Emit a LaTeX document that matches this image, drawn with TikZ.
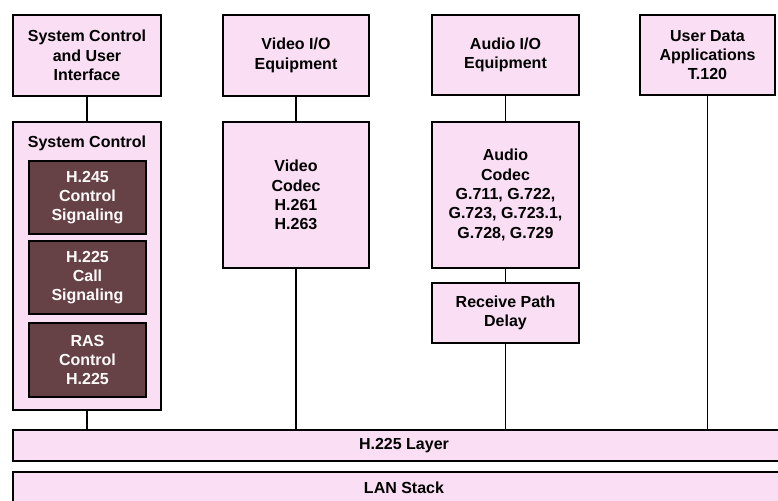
\documentclass[tikz,border=0pt]{standalone}
\usepackage{fontspec}
\setmainfont{Liberation Sans}
\usepackage{xcolor}
\usepackage{tikz}
\usetikzlibrary{positioning}

\definecolor{boxpink}{RGB}{249,222,244}
\definecolor{sigbrown}{RGB}{102,66,70}
\newcommand{\px}{0.75pt}

\begin{document}
\begin{tikzpicture}[x=0.75pt, y=-0.75pt,
		unit/.style={draw, line width=1.4pt, fill=boxpink, align=center,
				font=\bfseries\fontsize{12}{14.5}\selectfont, inner sep=0pt},
		sigbox/.style={unit, fill=sigbrown, text=white!92!pink},
		link/.style={line width=1.4pt}]
		\useasboundingbox (0,0) rectangle (778,500);
		\clip (0,0) rectangle (778,500);

		% Top row: equipment and applications
		\node[unit, minimum width=148*\px, minimum height=81*\px] (scui) at (87,55.5)
			{System Control\\and User\\Interface};
		\node[unit, minimum width=146*\px, minimum height=81*\px] (vio) at (296,55.5)
			{Video I/O\\Equipment};
		\node[unit, minimum width=147*\px, minimum height=80*\px] (aio) at (505.5,55)
			{Audio I/O\\Equipment};
		\node[unit, minimum width=135*\px, minimum height=80*\px] (udata) at (707.5,55)
			{User Data\\Applications\\T.120};

		% System control block with its signalling parts
		\node[unit, minimum width=148*\px, minimum height=288*\px] (sysctl) at (87,266) {};
		\node[font=\bfseries\fontsize{12}{14.5}\selectfont] (sctitle) at (87,143) {System Control};
		\node[sigbox, minimum width=117*\px, minimum height=73*\px] (h245) at (87.5,197.5)
			{H.245\\Control\\Signaling};
		\node[sigbox, minimum width=117*\px, minimum height=73*\px] (h225c) at (87.5,277.5)
			{H.225\\Call\\Signaling};
		\node[sigbox, minimum width=117*\px, minimum height=74*\px] (ras) at (87.5,360)
			{RAS\\Control\\H.225};

		% Codecs
		\node[unit, minimum width=146*\px, minimum height=146*\px] (vcodec) at (296,195)
			{Video\\Codec\\H.261\\H.263};
		\node[unit, minimum width=147*\px, minimum height=146*\px] (acodec) at (505.5,195)
			{Audio\\Codec\\G.711, G.722,\\G.723, G.723.1,\\G.728, G.729};
		\node[unit, minimum width=147*\px, minimum height=60*\px] (rpd) at (505.5,313)
			{Receive Path\\Delay};

		% Layers at the bottom
		\node[unit, minimum width=782*\px, minimum height=31*\px] (h225) at (404,445.5) {H.225 Layer};
		\node[unit, minimum width=782*\px, minimum height=32*\px] (lan) at (404,488) {LAN Stack};

		% Vertical links
		\foreach \a/\b in {scui/sysctl, vio/vcodec, aio/acodec, acodec/rpd}
			\draw[link] (\a.south) -- (\b.north);
		\foreach \a in {sysctl, vcodec, rpd, udata}
			\draw[link] (\a.south) -- (\a.south |- h225.north);
	\end{tikzpicture}
\end{document}
